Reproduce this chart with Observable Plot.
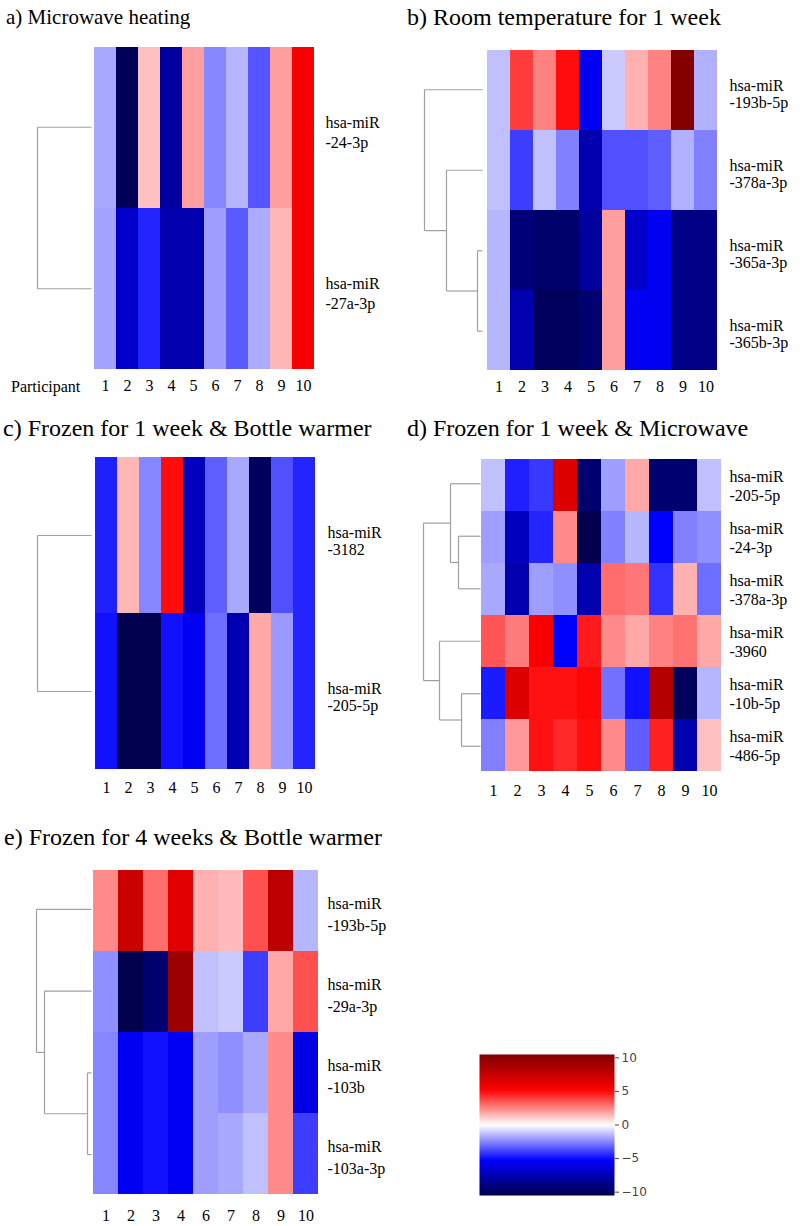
<!DOCTYPE html>
<html>
<head>
<meta charset="utf-8">
<script src="https://cdn.jsdelivr.net/npm/d3@7"></script>
<script src="https://cdn.jsdelivr.net/npm/@observablehq/plot@0.6"></script>
<style>
  html, body { margin: 0; padding: 0; background: #fff; }
  #root { position: relative; width: 800px; height: 1226px; overflow: hidden; background: #fff; font-family: "Liberation Serif", "Times New Roman", serif; }
  .title { position: absolute; white-space: nowrap; color: #000; }
  .note { position: absolute; font-size: 16px; line-height: 18px; white-space: nowrap; color: #000; }
  svg { overflow: visible; }
</style>
</head>
<body>
<div id="root"></div>
<script>
// ---------- data ----------
const participants = ["1","2","3","4","5","6","7","8","9","10"];
const participantsE = ["1","2","3","4","6","7","8","9","10"];

const titleA = "a) Microwave heating";
const rowsA = ["hsa-miR-24-3p", "hsa-miR-27a-3p"];
const valuesA = [
  [-1.8, -10.2, 1.3, -8.0, 2.0, -2.5, -1.5, -3.5, 2.0, 5.5],
  [-1.9, -6.8, -4.5, -7.6, -7.6, -2.0, -3.4, -1.7, 1.5, 5.5]
];
const treeA = [[0, 1, 5.4]];

const titleB = "b) Room temperature for 1 week";
const rowsB = ["hsa-miR-193b-5p", "hsa-miR-378a-3p", "hsa-miR-365a-3p", "hsa-miR-365b-3p"];
const valuesB = [
  [-1.3, 4.0, 2.6, 5.0, -5.6, -1.1, 1.6, 2.6, 10.3, -1.6],
  [-1.3, -4.0, -1.3, -2.6, -7.6, -3.6, -3.6, -3.3, -1.6, -2.6],
  [-1.5, -9.2, -9.6, -9.6, -8.0, 2.0, -6.8, -5.6, -8.8, -8.8],
  [-1.5, -7.6, -10.0, -10.0, -9.5, 2.0, -5.6, -5.6, -8.8, -8.8]
];
const treeB = [[2, 3, 0.5], [1, 4, 3.6], [0, 5, 5.8]];

const titleC = "c) Frozen for 1 week & Bottle warmer";
const rowsC = ["hsa-miR-3182", "hsa-miR-205-5p"];
const valuesC = [
  [-4.6, 1.5, -2.5, 5.0, -7.2, -3.3, -1.8, -10.0, -3.6, -4.5],
  [-4.9, -10.4, -10.4, -4.9, -5.6, -3.0, -7.5, 1.8, -2.1, -4.5]
];
const treeC = [[0, 1, 5.4]];

const titleD = "d) Frozen for 1 week & Microwave";
const rowsD = ["hsa-miR-205-5p", "hsa-miR-24-3p", "hsa-miR-378a-3p", "hsa-miR-3960", "hsa-miR-10b-5p", "hsa-miR-486-5p"];
const valuesD = [
  [-1.3, -4.6, -4.1, 6.7, -9.5, -2.0, 1.8, -9.5, -9.5, -1.3],
  [-2.0, -7.2, -4.5, 2.4, -10.5, -2.6, -1.5, -5.3, -2.6, -2.3],
  [-1.8, -7.6, -2.0, -2.3, -7.6, 3.0, 2.8, -4.2, 1.6, -3.0],
  [3.5, 2.7, 5.4, -5.3, 4.7, 2.4, 1.8, 2.6, 2.9, 1.8],
  [-4.7, 6.7, 4.9, 4.9, 5.1, -2.9, -4.9, 8.3, -10.0, -1.5],
  [-2.6, 2.1, 4.9, 4.4, 5.0, 2.4, -3.3, 4.6, -7.6, 1.3]
];
const treeD = [[1, 2, 2.2], [0, 6, 3.0], [4, 5, 1.9], [3, 8, 4.1], [7, 9, 5.7]];

const titleE = "e) Frozen for 4 weeks & Bottle warmer";
const rowsE = ["hsa-miR-193b-5p", "hsa-miR-29a-3p", "hsa-miR-103b", "hsa-miR-103a-3p"];
const valuesE = [
  [2.4, 7.4, 3.0, 6.5, 1.6, 1.4, 3.6, 8.0, -1.5],
  [-2.3, -10.5, -9.5, 9.3, -1.3, -1.1, -4.0, 1.8, 3.6],
  [-2.5, -5.6, -4.9, -5.6, -2.0, -2.3, -1.8, 2.4, -6.0],
  [-2.5, -5.6, -4.9, -5.6, -2.0, -1.8, -1.3, 2.4, -4.0]
];
const treeE = [[2, 3, 0.4], [1, 4, 4.7], [0, 5, 5.5]];

const colorTicks = [-10, -5, 0, 5, 10];
const colorLimit = 10.5;
const seismic = ["#00004c", "#0000ff", "#ffffff", "#ff0000", "#7f0000"];

// ---------- helpers ----------
const root = document.getElementById("root");
const colorOpts = {
  type: "linear",
  domain: [-colorLimit, -colorLimit / 2, 0, colorLimit / 2, colorLimit],
  range: seismic,
  interpolate: "rgb",
  clamp: true
};

function place(el, left, top) {
  el.style.position = "absolute";
  el.style.left = left + "px";
  el.style.top = top + "px";
  root.appendChild(el);
}

function addTitle(text, left, top, size) {
  const d = document.createElement("div");
  d.className = "title";
  d.textContent = text;
  d.style.left = left + "px";
  d.style.top = top + "px";
  d.style.fontSize = size + "px";
  d.style.lineHeight = size + "px";
  root.appendChild(d);
}

function tidy(rows, cols, values) {
  const out = [];
  rows.forEach((r, i) => cols.forEach((c, j) => out.push({mir: r, p: c, v: values[i][j]})));
  return out;
}

function dendroSegments(n, merges) {
  const pos = d3.range(n).map(i => i + 0.5);
  const h = new Array(n).fill(0);
  const segs = [];
  merges.forEach(([a, b, ht]) => {
    segs.push({x1: h[a], y1: pos[a], x2: ht, y2: pos[a]});
    segs.push({x1: h[b], y1: pos[b], x2: ht, y2: pos[b]});
    segs.push({x1: ht, y1: pos[a], x2: ht, y2: pos[b]});
    pos.push((pos[a] + pos[b]) / 2);
    h.push(ht);
  });
  return segs;
}

function panel({rows, cols, values, tree, L, T, fw, fh, tickPad, lineHeight, labelDy}) {
  const mr = 80, mb = 30;
  const heat = Plot.plot({
    width: fw + mr, height: fh + mb,
    marginLeft: 0, marginTop: 0, marginRight: mr, marginBottom: mb,
    x: {domain: cols, padding: 0, axis: null},
    y: {domain: rows, padding: 0, axis: null},
    color: colorOpts,
    style: {fontFamily: "'Liberation Serif', 'Times New Roman', serif", fontSize: "16px", background: "transparent", color: "#000"},
    marks: [
      Plot.cell(tidy(rows, cols, values), {x: "p", y: "mir", fill: "v", inset: 0, shapeRendering: "crispEdges"}),
      Plot.axisX({anchor: "bottom", tickSize: 0, tickPadding: tickPad, fontSize: 16, label: null}),
      Plot.axisY({anchor: "right", tickSize: 0, tickPadding: 8, fontSize: 16, label: null,
                  lineHeight: lineHeight, textAnchor: "start", dy: labelDy,
                  tickFormat: d => d.replace("miR-", "miR\n-")})
    ]
  });
  place(heat, L, T);

  const dw = 60;
  const dend = Plot.plot({
    width: dw, height: fh,
    marginLeft: 0, marginTop: 0, marginRight: 0, marginBottom: 0,
    x: {domain: [6, 0], axis: null},
    y: {domain: [0, rows.length], reverse: true, axis: null},
    style: {background: "transparent"},
    marks: [
      Plot.link(dendroSegments(rows.length, tree), {x1: "x1", y1: "y1", x2: "x2", y2: "y2", stroke: "#a0a0a0", strokeWidth: 1.2})
    ]
  });
  place(dend, L - dw, T);
}

// ---------- panels ----------
addTitle(titleA, 6, 7, 21);
panel({rows: rowsA, cols: participants, values: valuesA, tree: treeA, L: 91, T: 46, fw: 226, fh: 323, tickPad: 10, lineHeight: 1.25, labelDy: 4});
const part = document.createElement("div");
part.className = "note";
part.textContent = "Participant";
part.style.left = "11px";
part.style.top = "378px";
root.appendChild(part);

addTitle(titleB, 407, 5, 24);
panel({rows: rowsB, cols: participants, values: valuesB, tree: treeB, L: 482, T: 49, fw: 239, fh: 322, tickPad: 9, lineHeight: 1.05, labelDy: 4});

addTitle(titleC, 3, 416, 24);
panel({rows: rowsC, cols: participants, values: valuesC, tree: treeC, L: 91, T: 457, fw: 228, fh: 312, tickPad: 12, lineHeight: 1.05, labelDy: 6});

addTitle(titleD, 407, 416, 24);
panel({rows: rowsD, cols: participants, values: valuesD, tree: treeD, L: 480, T: 457, fw: 241, fh: 315, tickPad: 12, lineHeight: 1.2, labelDy: 0});

addTitle(titleE, 4, 825, 24);
panel({rows: rowsE, cols: participantsE, values: valuesE, tree: treeE, L: 91, T: 868, fw: 228, fh: 327, tickPad: 14, lineHeight: 1.35, labelDy: 2});

// ---------- colorbar ----------
const cbW = 135, cbH = 141, cbPad = 8;
const cbar = Plot.plot({
  width: cbW + 45, height: cbH + 2 * cbPad,
  marginLeft: 0, marginRight: 45, marginTop: cbPad, marginBottom: cbPad,
  x: {domain: [0, 1], axis: null},
  y: {domain: [-colorLimit, colorLimit], axis: null},
  color: colorOpts,
  style: {background: "transparent", color: "#444"},
  marks: [
    Plot.raster({x1: 0, x2: 1, y1: -colorLimit, y2: colorLimit, width: 1, height: 300, fill: (x, y) => y}),
    Plot.axisY({anchor: "right", ticks: colorTicks, tickSize: 4, tickPadding: 3, fontSize: 12,
                fontFamily: "DejaVu Sans, sans-serif", fill: "#444", stroke: "#444", label: null})
  ]
});
place(cbar, 479, 1053.5 - cbPad);
</script>
</body>
</html>
